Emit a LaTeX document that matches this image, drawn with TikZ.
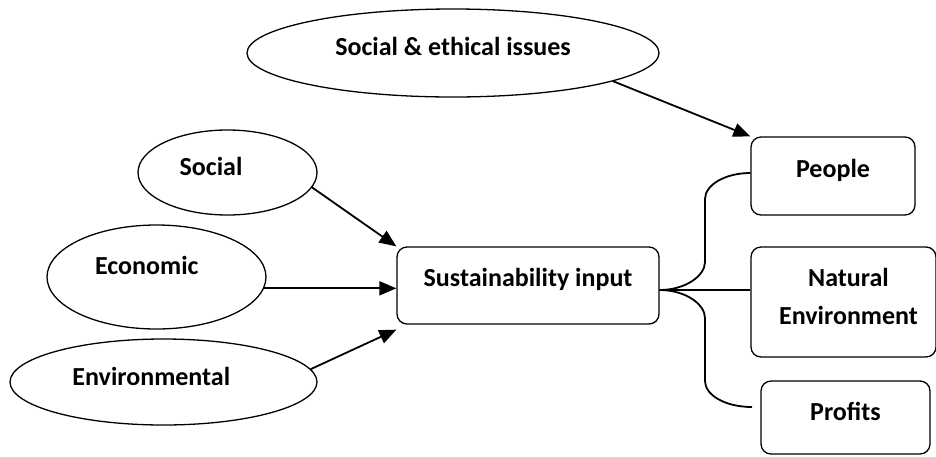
\documentclass[tikz,border=0pt]{standalone}
\usepackage{fontspec}
\setmainfont{Carlito}
\usetikzlibrary{shapes.geometric,arrows.meta}
\tikzset{ %
  ,>={Triangle[length=17pt,width=14pt]}
  ,every node/.style={font=\bfseries\fontsize{26}{38}\selectfont}
  ,bubble/.style={draw, ellipse, inner sep=0, line width=1.3pt}
  ,box/.style={draw, rectangle, rounded corners=10pt, inner sep=0, line width=1.3pt}
  ,tag/.style={inner sep=0, text height=19pt, text depth=6pt}
  ,link/.style={line width=1.8pt}
}
\begin{document}
\begin{tikzpicture}[x=1pt,y=-1pt]
      \useasboundingbox (0,0) rectangle (936,456);
      \draw 
      node[bubble, minimum width=412pt, minimum height=88pt, label={[tag,yshift=4.5pt]center:Social \& ethical issues}] (ethics) at (453,53) {} 
      node[bubble, minimum width=179pt, minimum height=85pt, label={[tag,xshift=-16.5pt,yshift=3.5pt]center:Social}] (social) at (227.5,172.5) {} 
      node[bubble, minimum width=219pt, minimum height=104pt, label={[tag,xshift=-9.7pt,yshift=9.5pt]center:Economic}] (econ) at (156.5,277) {} 
      node[bubble, minimum width=307pt, minimum height=86pt, label={[tag,xshift=-12.2pt,yshift=3.5pt]center:Environmental}] (env) at (163.5,382) {} 
      node[box, minimum width=262pt, minimum height=77pt, label={[tag,yshift=6pt]center:Sustainability input}] (sust) at (528,285.5) {} 
      node[box, minimum width=164pt, minimum height=78pt, label={[tag,yshift=5.5pt]center:People}] (people) at (833,176) {} 
      node[box, minimum width=185pt, minimum height=110pt, label={[inner sep=0,align=center,xshift=5pt,yshift=6pt]center:Natural\\Environment}] (nature) at (843.5,302) {} 
      node[box, minimum width=169pt, minimum height=73pt, label={[tag,yshift=4pt]center:Profits}] (profits) at (845.5,417.5) {};
      \coordinate (hub) at ([yshift=-4.5pt]sust.east);
      \coordinate (pend) at (752,407);
      \draw [->, line width=1.8pt] (ethics.-10) -- (people.north west);
      \draw [->, line width=1.8pt] (social.-10) -- (sust.north west);
      \draw [->, line width=1.8pt] (econ.-6) -- (econ.-6 -| sust.west);
      \draw [->, line width=1.8pt] (env.5) -- ([yshift=-5pt]sust.south west);
      \draw [link] (hub) .. controls (685,290) and (705,276) .. (705,262) -- (705,199) .. controls (705,185) and (725,173) .. ([yshift=3pt]people.west);
      \draw [link] (hub) -- (hub -| nature.west);
      \draw [link] (hub) .. controls (685,290) and (705,304) .. (705,318) -- (705,381) .. controls (705,395) and (725,407) .. (pend);
    \end{tikzpicture}
\end{document}
